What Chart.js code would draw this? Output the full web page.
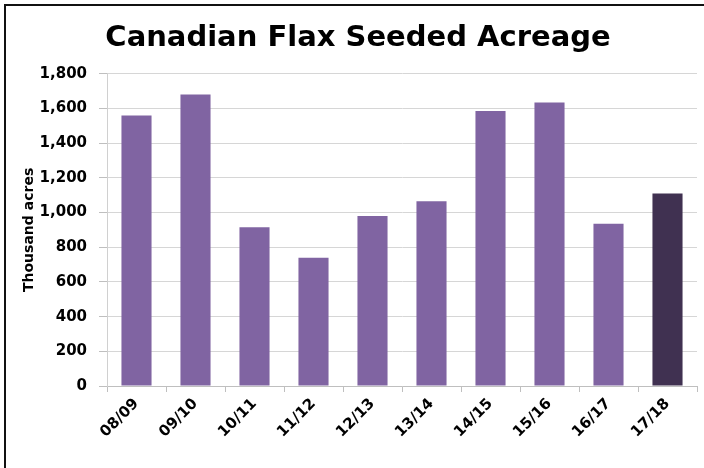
<!DOCTYPE html>
<html>
<head>
<meta charset="utf-8">
<script src="https://cdn.jsdelivr.net/npm/chart.js@4/dist/chart.umd.min.js"></script>
<style>
  html, body { margin: 0; padding: 0; background: #fff; }
  #wrap { position: relative; width: 704px; height: 468px; overflow: hidden; }
  #frame { position: absolute; left: 4px; top: 4px; width: 720px; height: 480px;
           border-top: 2.5px solid #111; border-left: 2.5px solid #111; pointer-events: none; }
  canvas { display: block; }
</style>
</head>
<body>
<div id="wrap">
  <canvas id="c" width="704" height="468"></canvas>
  <div id="frame"></div>
</div>
<script>
const titleText = 'Canadian Flax Seeded Acreage';
const yAxisTitle = 'Thousand acres';
const categories = ['08/09', '09/10', '10/11', '11/12', '12/13', '13/14', '14/15', '15/16', '16/17', '17/18'];
const acreage = [1560, 1680, 915, 740, 980, 1065, 1585, 1635, 935, 1110];
const yTickValues = [0, 200, 400, 600, 800, 1000, 1200, 1400, 1600, 1800];
const barColors = ['#8064A2', '#8064A2', '#8064A2', '#8064A2', '#8064A2', '#8064A2', '#8064A2', '#8064A2', '#8064A2', '#403151'];

const FONT = "'DejaVu Sans', 'Liberation Sans', Arial, sans-serif";

new Chart(document.getElementById('c'), {
  type: 'bar',
  data: {
    labels: categories,
    datasets: [{
      data: acreage,
      backgroundColor: barColors,
      borderWidth: 0,
      barPercentage: 0.51,
      categoryPercentage: 1.0
    }]
  },
  options: {
    responsive: false,
    animation: false,
    layout: { padding: { left: 19, right: 7, top: 0, bottom: 0 } },
    plugins: {
      legend: { display: false },
      tooltip: { enabled: false },
      title: {
        display: true,
        text: titleText,
        color: '#000',
        font: { family: FONT, size: 29, weight: 'bold', lineHeight: 1.2 },
        padding: { top: 21, bottom: 18 }
      }
    },
    scales: {
      x: {
        offset: true,
        grid: { display: true, offset: true, drawOnChartArea: false, color: '#bfbfbf', tickLength: 6, tickColor: '#bfbfbf' },
        border: { display: true, color: '#bfbfbf', width: 1 },
        ticks: {
          color: '#000',
          font: { family: FONT, size: 15, weight: 'bold' },
          minRotation: 45, maxRotation: 45,
          padding: 3
        },
        afterFit(scale) { scale.height = 82; }
      },
      y: {
        min: 0, max: 1800,
        afterBuildTicks(scale) { scale.ticks = yTickValues.map(v => ({ value: v })); },
        grid: { color: '#d6d6d6', lineWidth: 1, tickLength: 8, tickColor: '#bfbfbf' },
        border: { display: true, color: '#d0d0d0', width: 1 },
        ticks: {
          color: '#000',
          font: { family: FONT, size: 15, weight: 'bold' },
          padding: 12,
          callback: v => v.toLocaleString('en-US')
        },
        title: {
          display: true,
          text: yAxisTitle,
          color: '#000',
          font: { family: FONT, size: 14, weight: 'bold' },
          padding: { top: 2, bottom: 0 }
        },
        afterFit(scale) { scale.width = 88; }
      }
    }
  }
});
</script>
</body>
</html>
